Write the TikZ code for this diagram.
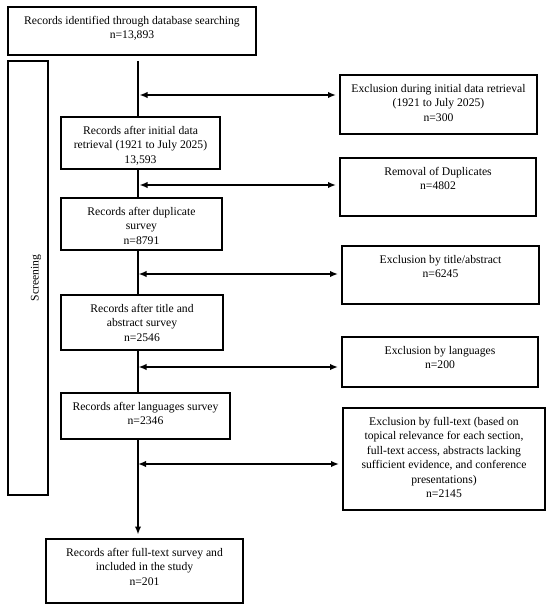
\documentclass[tikz,border=0pt]{standalone}
\usepackage{fontspec}
\setmainfont{Liberation Serif}
\usetikzlibrary{arrows.meta}
\begin{document}
\begin{tikzpicture}[x=1bp,y=-1bp,
  box/.style={draw, line width=2bp, inner sep=0pt, rectangle},
  txt/.style={anchor=north, align=center, inner sep=0pt, font=\fontsize{11.7}{14.5}\selectfont},
  flow/.style={line width=2bp},
  dbl/.style={line width=2bp, {Latex[length=8bp,width=6.5bp]}-{Latex[length=8bp,width=6.5bp]}},
  one/.style={line width=2bp, -{Latex[length=8bp,width=6.5bp]}}
]
\useasboundingbox (0,0) rectangle (550,610);
% left column boxes
\node[box, minimum width=248bp, minimum height=48bp] (b1) at (132,31) {};
\node[txt] (t1) at ([yshift=-10bp]b1.north) {Records identified through database searching\\n=13,893};
\node[box, minimum width=159bp, minimum height=52bp] (b2) at (140.5,143) {};
\node[txt] (t2) at ([yshift=-10bp]b2.north) {Records after initial data\\retrieval (1921 to July 2025)\\13,593};
\node[box, minimum width=161bp, minimum height=52bp] (b3) at (141.5,224) {};
\node[txt] (t3) at ([yshift=-10bp]b3.north) {Records after duplicate\\survey\\n=8791};
\node[box, minimum width=162bp, minimum height=55bp] (b4) at (142,322.5) {};
\node[txt] (t4) at ([yshift=-10bp]b4.north) {Records after title and\\abstract survey\\n=2546};
\node[box, minimum width=169bp, minimum height=46bp] (b5) at (145.5,416) {};
\node[txt] (t5) at ([yshift=-10bp]b5.north) {Records after languages survey\\n=2346};
\node[box, minimum width=197bp, minimum height=64bp] (b6) at (144.5,571) {};
\node[txt] (t6) at ([yshift=-10bp]b6.north) {Records after full-text survey and\\included in the study\\n=201};
% right column boxes
\node[box, minimum width=197bp, minimum height=59bp] (r1) at (438.5,104.5) {};
\node[txt] (u1) at ([yshift=-10bp]r1.north) {Exclusion during initial data retrieval\\(1921 to July 2025)\\n=300};
\node[box, minimum width=196bp, minimum height=58bp] (r2) at (438,187) {};
\node[txt] (u2) at ([yshift=-10bp]r2.north) {Removal of Duplicates\\n=4802};
\node[box, minimum width=197bp, minimum height=58bp] (r3) at (440.5,275) {};
\node[txt] (u3) at ([yshift=-10bp]r3.north) {Exclusion by title/abstract\\n=6245};
\node[box, minimum width=196bp, minimum height=50bp] (r4) at (440,362) {};
\node[txt] (u4) at ([yshift=-10bp]r4.north) {Exclusion by languages\\n=200};
\node[box, minimum width=202bp, minimum height=102bp] (r5) at (444,459) {};
\node[txt] (u5) at ([yshift=-10bp]r5.north) {Exclusion by full-text (based on\\topical relevance for each section,\\full-text access, abstracts lacking\\sufficient evidence, and conference\\presentations)\\n=2145};
% screening side box
\node[box, minimum width=40bp, minimum height=434bp] (scr) at (28,278) {};
\node[inner sep=0pt, rotate=90, font=\fontsize{11.7}{14.5}\selectfont] (scrt) at (36,278) {Screening};
% main flow line
\coordinate (m) at (138,0);
\draw[flow, shorten <=5bp] (b1.south -| m) -- (b2.north -| m);
\draw[flow] (b2.south -| m) -- (b3.north -| m);
\draw[flow] (b3.south -| m) -- (b4.north -| m);
\draw[flow] (b4.south -| m) -- (b5.north -| m);
\draw[one, shorten >=3.5bp] (b5.south -| m) -- (b6.north -| m);
% exclusion arrows
\coordinate (j1) at (139.5,95);
\coordinate (j2) at (139.5,185);
\coordinate (j3) at (138.5,274);
\coordinate (j4) at (138.5,367);
\coordinate (j5) at (138,464);
\draw[dbl, shorten >=3bp] (j1) -- (r1.west |- j1);
\draw[dbl, shorten >=3bp] (j2) -- (r2.west |- j2);
\draw[dbl, shorten >=3bp] (j3) -- (r3.west |- j3);
\draw[dbl, shorten >=3bp] (j4) -- (r4.west |- j4);
\draw[dbl, shorten >=3bp] (j5) -- (r5.west |- j5);
\end{tikzpicture}
\end{document}
